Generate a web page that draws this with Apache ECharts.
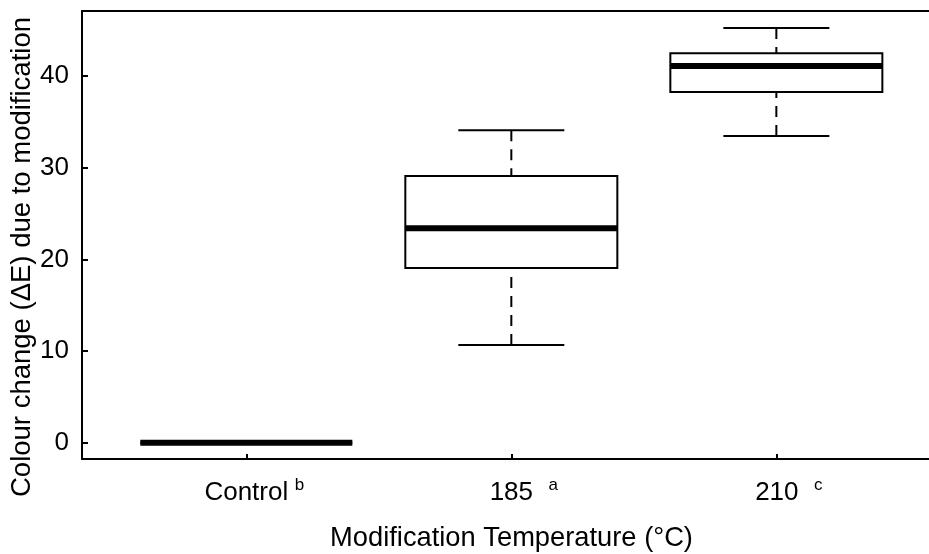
<!DOCTYPE html>
<html>
<head>
<meta charset="utf-8">
<script src="https://cdn.jsdelivr.net/npm/echarts@6/dist/echarts.min.js"></script>
<style>html,body{margin:0;padding:0;background:#fff;}#chart{width:929px;height:554px;}</style>
</head>
<body>
<div id="chart"></div>
<script>
// ---- data ----
const categories = ['Control', '185', '210'];
const superscripts = ['b', 'a', 'c'];
const lowerWhisker = [0, 10.66, 33.46];
const q1 = [0, 19.06, 38.26];
const median = [0, 23.4, 41.1];
const q3 = [0, 29.1, 42.5];
const upperWhisker = [0, 34.1, 45.25];
const yTicks = [0, 10, 20, 30, 40];
const xTicks = [1, 2, 3];

const FONT = "'Liberation Sans', Arial, sans-serif";
const seriesData = categories.map((c, i) => [i + 1, lowerWhisker[i], q1[i], median[i], q3[i], upperWhisker[i]]);
const frameLine = { show: true, onZero: false, lineStyle: { color: '#000', width: 2 } };

const chart = echarts.init(document.getElementById('chart'));
chart.setOption({
  backgroundColor: '#fff',
  animation: false,
  grid: { left: 82, right: 0, top: 11, bottom: 95, show: false },
  xAxis: [{
    type: 'value', min: 0.38, max: 3.576,
    splitLine: { show: false },
    axisLine: frameLine,
    axisTick: { show: true, inside: true, length: 5, customValues: xTicks, lineStyle: { color: '#000', width: 2 } },
    axisLabel: {
      customValues: xTicks, margin: 18, color: '#000',
      formatter: function (v) {
        const i = Math.round(v) - 1;
        if (i < 0 || i >= categories.length) return '';
        const k = i === 0 ? 'C' : 'N';
        return '{pad' + k + '| }{m|' + categories[i] + '}{sup' + k + '|' + superscripts[i] + '}';
      },
      rich: {
        m: { fontSize: 26, fontFamily: FONT, color: '#000', lineHeight: 32 },
        padC: { width: 16, fontSize: 17, lineHeight: 17 },
        padN: { width: 25, fontSize: 17, lineHeight: 17 },
        supC: { fontSize: 17, fontFamily: FONT, color: '#000', lineHeight: 17, verticalAlign: 'top', padding: [0, 0, 0, 6.5] },
        supN: { fontSize: 17, fontFamily: FONT, color: '#000', lineHeight: 17, verticalAlign: 'top', padding: [0, 0, 0, 15.5] }
      }
    }
  }, {
    type: 'value', position: 'top', min: 0.38, max: 3.576,
    splitLine: { show: false },
    axisLine: frameLine,
    axisTick: { show: false },
    axisLabel: { show: false }
  }],
  yAxis: {
    type: 'value', min: -1.78, max: 47.1,
    splitLine: { show: false },
    axisLine: frameLine,
    axisTick: { show: true, inside: true, length: 6, customValues: yTicks, lineStyle: { color: '#000', width: 2 } },
    axisLabel: { customValues: yTicks, margin: 13, fontSize: 26, fontFamily: FONT, color: '#000' }
  },
  graphic: [
    { type: 'text', x: 511.5, y: 538, style: { text: 'Modification Temperature (°C)', fontSize: 27.3, fontFamily: FONT, fill: '#000', align: 'center', verticalAlign: 'middle' } },
    { type: 'text', x: 22, y: 257, rotation: Math.PI / 2, style: { text: 'Colour change (ΔE) due to modification', fontSize: 27.5, fontFamily: FONT, fill: '#000', align: 'center', verticalAlign: 'middle' } }
  ],
  series: [{
    type: 'custom',
    xAxisIndex: 0,
    data: seriesData,
    clip: false,
    renderItem: function (params, api) {
      const x = api.value(0);
      const pLow = api.coord([x, api.value(1)]);
      const pQ1 = api.coord([x, api.value(2)]);
      const pMed = api.coord([x, api.value(3)]);
      const pQ3 = api.coord([x, api.value(4)]);
      const pHigh = api.coord([x, api.value(5)]);
      const bw = api.size([0.8, 0])[0];
      const cw = api.size([0.4, 0])[0];
      const cx = pMed[0];
      const dash = { stroke: '#000', lineWidth: 2, lineDash: [11, 8], fill: null };
      const solid = { stroke: '#000', lineWidth: 2, fill: null };
      return {
        type: 'group',
        children: [
          { type: 'line', shape: { x1: cx, y1: pLow[1], x2: cx, y2: pQ1[1] }, style: dash },
          { type: 'line', shape: { x1: cx, y1: pHigh[1], x2: cx, y2: pQ3[1] }, style: dash },
          { type: 'line', shape: { x1: cx - cw / 2, y1: pLow[1], x2: cx + cw / 2, y2: pLow[1] }, style: solid },
          { type: 'line', shape: { x1: cx - cw / 2, y1: pHigh[1], x2: cx + cw / 2, y2: pHigh[1] }, style: solid },
          { type: 'rect', shape: { x: cx - bw / 2, y: pQ3[1], width: bw, height: pQ1[1] - pQ3[1] }, style: { stroke: '#000', lineWidth: 2, fill: '#fff' } },
          { type: 'line', shape: { x1: cx - bw / 2, y1: pMed[1], x2: cx + bw / 2, y2: pMed[1] }, style: { stroke: '#000', lineWidth: 6, lineCap: 'butt' } }
        ]
      };
    }
  }]
});
</script>
</body>
</html>
